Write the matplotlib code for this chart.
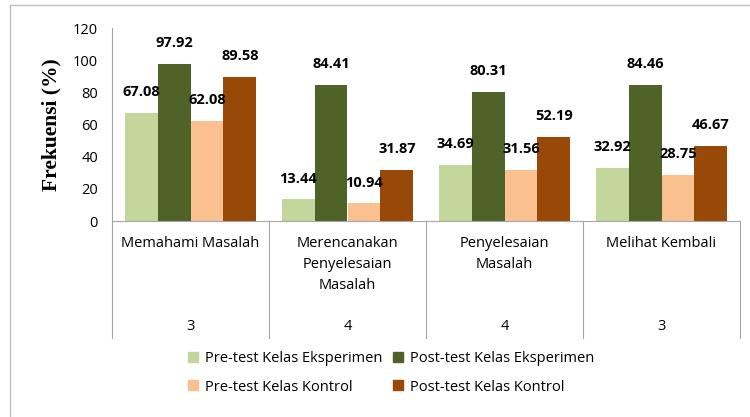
import numpy as np
import matplotlib.pyplot as plt
from matplotlib.lines import Line2D

categories = ["Memahami Masalah", "Merencanakan\nPenyelesaian\nMasalah",
              "Penyelesaian\nMasalah", "Melihat Kembali"]
counts = ["3", "4", "4", "3"]
series_names = ["Pre-test Kelas Eksperimen", "Post-test Kelas Eksperimen",
                "Pre-test Kelas Kontrol", "Post-test Kelas Kontrol"]
pre_eks = [67.08, 13.44, 34.69, 32.92]
post_eks = [97.92, 84.41, 80.31, 84.46]
pre_kon = [62.08, 10.94, 31.56, 28.75]
post_kon = [89.58, 31.87, 52.19, 46.67]
colors = ["#C3D69B", "#4F6228", "#FAC090", "#984807"]

plt.rcParams['font.family'] = ['Open Sans', 'DejaVu Sans']

fig = plt.figure(figsize=(7.5, 4.17), dpi=100)
ax = fig.add_axes([112/750, 1-221/417, 628/750, 193/417])

x = np.arange(len(categories))
w = 0.21
data = [pre_eks, post_eks, pre_kon, post_kon]
for i, vals in enumerate(data):
    pos = x + (i - 1.5) * w
    ax.bar(pos, vals, w, color=colors[i], label=series_names[i])
    for p, v in zip(pos, vals):
        ax.annotate(f"{v:.2f}", (p, v), xytext=(0, 15), textcoords='offset points',
                    ha='center', va='center', fontsize=10.5, fontweight='bold')

ax.set_xlim(-0.5, len(categories) - 0.5)
ax.set_ylim(0, 120)
ax.set_yticks(range(0, 121, 20))
ax.tick_params(axis='y', length=0, labelsize=10.5, pad=10)
ax.set_xticks([])
for s in ['top', 'right']:
    ax.spines[s].set_visible(False)
ax.spines['left'].set_color('#A6A6A6')
ax.spines['bottom'].set_color('#A6A6A6')
ax.set_ylabel("Frekuensi (%)", family='Liberation Serif', fontweight='bold',
              fontsize=15.5, labelpad=8)

# two-level category axis
trans = ax.get_xaxis_transform()
div_bottom = -(338 - 221) / 193
for b in np.arange(len(categories) + 1) - 0.5:
    ax.plot([b, b], [0, div_bottom], transform=trans, color='#A6A6A6',
            lw=0.8, clip_on=False)
for xi, cat, n in zip(x, categories, counts):
    ax.text(xi, -(236 - 221) / 193, cat, transform=trans, ha='center', va='top',
            fontsize=10.5, linespacing=1.55)
    ax.text(xi, -(326 - 221) / 193, n, transform=trans, ha='center', va='center',
            fontsize=10.5)

handles = [Line2D([], [], marker='s', ls='', color=c, markersize=7) for c in colors]
order = [0, 2, 1, 3]
fig.legend([handles[k] for k in order], [series_names[k] for k in order],
           ncol=2, loc='center', bbox_to_anchor=(390/750, 1-373/417),
           frameon=False, fontsize=10.5, handlelength=1.0,
           handletextpad=0.3, columnspacing=0.6, labelspacing=0.9)

# outer border (left and top)
fig.add_artist(Line2D([10/750, 10/750], [0, 1-5/417], color='#BFBFBF', lw=1))
fig.add_artist(Line2D([10/750, 1], [1-5/417, 1-5/417], color='#BFBFBF', lw=1))

fig.savefig("out.png", dpi=100)
